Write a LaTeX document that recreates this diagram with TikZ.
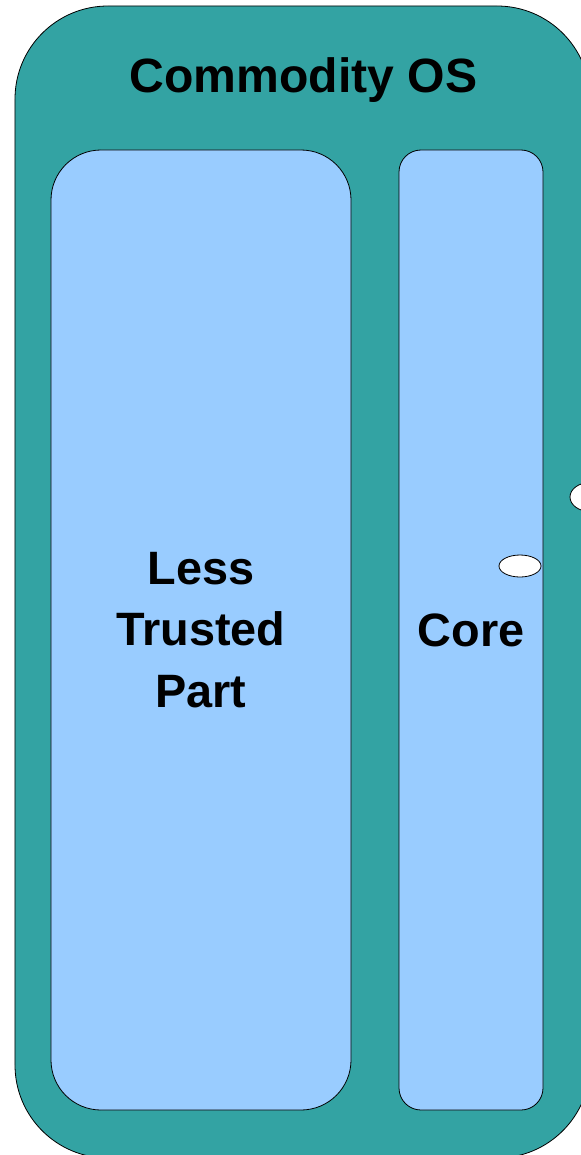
\documentclass[tikz,border=0pt]{standalone}
\usepackage{fontspec}
\setmainfont{Liberation Sans}
\usetikzlibrary{shapes.geometric}
\definecolor{osteal}{RGB}{51,163,163}
\definecolor{partblue}{RGB}{153,204,255}
\tikzset{
  x=1bp, y=-1bp,
  panel/.style={draw=black, line width=0.8bp, inner sep=0pt, outer sep=0pt},
  bigtext/.style={font=\bfseries\fontsize{47}{62}\selectfont, align=center, text=black},
  port/.style={ellipse, draw=black, line width=0.8bp, fill=white, inner sep=0pt}
}
\begin{document}
\begin{tikzpicture}
  \useasboundingbox (0,0) rectangle (581,1155);
  \clip (0,0) rectangle (581,1155);
  % outer operating system container
  \node[panel, fill=osteal, rounded corners=93bp, minimum width=575bp, minimum height=1152bp] (os) at (302.5,582) {};
  \node[bigtext, font=\bfseries\fontsize{48.3}{60}\selectfont, anchor=base] (title) at (303.5,92) {Commodity OS};
  % the two inner parts
  \node[panel, fill=partblue, rounded corners=50bp, minimum width=300bp, minimum height=960bp, bigtext] (less) at (201,630) {Less\\Trusted\\Part};
  \node[panel, fill=partblue, rounded corners=22bp, minimum width=144bp, minimum height=960bp, bigtext] (core) at (471,630) {Core};
  % small openings
  \node[port, minimum width=42bp, minimum height=22bp] (p1) at (520,566) {};
  \node[port, minimum width=40bp, minimum height=29bp] (p2) at (590,497) {};
\end{tikzpicture}
\end{document}
